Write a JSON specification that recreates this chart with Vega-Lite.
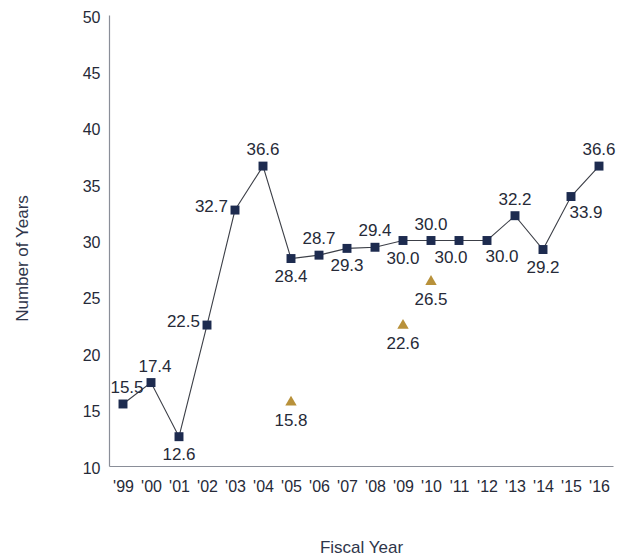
{
  "$schema": "https://vega.github.io/schema/vega-lite/v6.json",
  "width": 504,
  "height": 451,
  "autosize": {"type": "none"},
  "padding": {"left": 109, "top": 15, "right": 5, "bottom": 91},
  "background": "white",
  "config": {
    "view": {"stroke": null},
    "font": "Liberation Sans",
    "axis": {"grid": false, "ticks": false, "domainColor": "#8a8e98", "domainWidth": 1.2, "labelColor": "#262a38", "labelFontSize": 16, "titleColor": "#2f364b", "titleFontSize": 17, "titleFontWeight": "normal"}
  },
  "datasets": {
    "main": [
      {"year": "'99", "value": 15.5},
      {"year": "'00", "value": 17.4},
      {"year": "'01", "value": 12.6},
      {"year": "'02", "value": 22.5},
      {"year": "'03", "value": 32.7},
      {"year": "'04", "value": 36.6},
      {"year": "'05", "value": 28.4},
      {"year": "'06", "value": 28.7},
      {"year": "'07", "value": 29.3},
      {"year": "'08", "value": 29.4},
      {"year": "'09", "value": 30.0},
      {"year": "'10", "value": 30.0},
      {"year": "'11", "value": 30.0},
      {"year": "'12", "value": 30.0},
      {"year": "'13", "value": 32.2},
      {"year": "'14", "value": 29.2},
      {"year": "'15", "value": 33.9},
      {"year": "'16", "value": 36.6}
    ],
    "tri": [
      {"year": "'05", "value": 15.8},
      {"year": "'09", "value": 22.6},
      {"year": "'10", "value": 26.5}
    ]
  },
  "encoding": {
    "x": {
      "field": "year", "type": "ordinal",
      "sort": ["'99","'00","'01","'02","'03","'04","'05","'06","'07","'08","'09","'10","'11","'12","'13","'14","'15","'16"],
      "scale": {"type": "point", "padding": 0.5, "domain": ["'99","'00","'01","'02","'03","'04","'05","'06","'07","'08","'09","'10","'11","'12","'13","'14","'15","'16"]},
      "axis": {"title": "Fiscal Year", "labelAngle": 0, "labelPadding": 12, "titlePadding": 45}
    },
    "y": {
      "field": "value", "type": "quantitative",
      "scale": {"domain": [10, 50], "nice": false, "zero": false},
      "axis": {"title": "Number of Years", "values": [10,15,20,25,30,35,40,45,50], "labelPadding": 9, "labelOffset": 2, "titleAngle": -90, "titleX": -87, "titleY": 243, "titleBaseline": "middle", "titleAlign": "center"}
    }
  },
  "layer": [
    {"data": {"name": "main"}, "mark": {"type": "line", "color": "#3c3f47", "strokeWidth": 1.1}},
    {"data": {"name": "main"}, "mark": {"type": "point", "shape": "square", "filled": true, "size": 80, "color": "#1d2b4f", "opacity": 1}},
    {"data": {"name": "tri"}, "mark": {"type": "point", "shape": "triangle-up", "filled": true, "size": 130, "color": "#b8913a", "opacity": 1}},
    {"data": {"name": "tri"}, "mark": {"type": "text", "dy": 20, "fontSize": 17, "color": "#262a38", "baseline": "middle"}, "encoding": {"text": {"field": "value", "type": "quantitative", "format": ".1f"}}},
    {"data": {"name": "main"}, "transform": [{"filter": {"field": "year", "oneOf": ["'04","'06","'08","'10","'13","'16"]}}], "mark": {"type": "text", "dy": -16, "fontSize": 17, "color": "#262a38", "baseline": "middle"}, "encoding": {"text": {"field": "value", "type": "quantitative", "format": ".1f"}}},
    {"data": {"name": "main"}, "transform": [{"filter": {"field": "year", "oneOf": ["'99","'00"]}}], "mark": {"type": "text", "dx": 4, "dy": -16, "fontSize": 17, "color": "#262a38", "baseline": "middle"}, "encoding": {"text": {"field": "value", "type": "quantitative", "format": ".1f"}}},
    {"data": {"name": "main"}, "transform": [{"filter": {"field": "year", "oneOf": ["'01","'05","'07","'09","'14"]}}], "mark": {"type": "text", "dy": 18, "fontSize": 17, "color": "#262a38", "baseline": "middle"}, "encoding": {"text": {"field": "value", "type": "quantitative", "format": ".1f"}}},
    {"data": {"name": "main"}, "transform": [{"filter": {"field": "year", "oneOf": ["'11"]}}], "mark": {"type": "text", "dx": -8, "dy": 17, "fontSize": 17, "color": "#262a38", "baseline": "middle"}, "encoding": {"text": {"field": "value", "type": "quantitative", "format": ".1f"}}},
    {"data": {"name": "main"}, "transform": [{"filter": {"field": "year", "oneOf": ["'12","'15"]}}], "mark": {"type": "text", "dx": 15, "dy": 16, "fontSize": 17, "color": "#262a38", "baseline": "middle"}, "encoding": {"text": {"field": "value", "type": "quantitative", "format": ".1f"}}},
    {"data": {"name": "main"}, "transform": [{"filter": {"field": "year", "oneOf": ["'02","'03"]}}], "mark": {"type": "text", "dx": -7, "dy": -3, "align": "right", "fontSize": 17, "color": "#262a38", "baseline": "middle"}, "encoding": {"text": {"field": "value", "type": "quantitative", "format": ".1f"}}}
  ]
}
